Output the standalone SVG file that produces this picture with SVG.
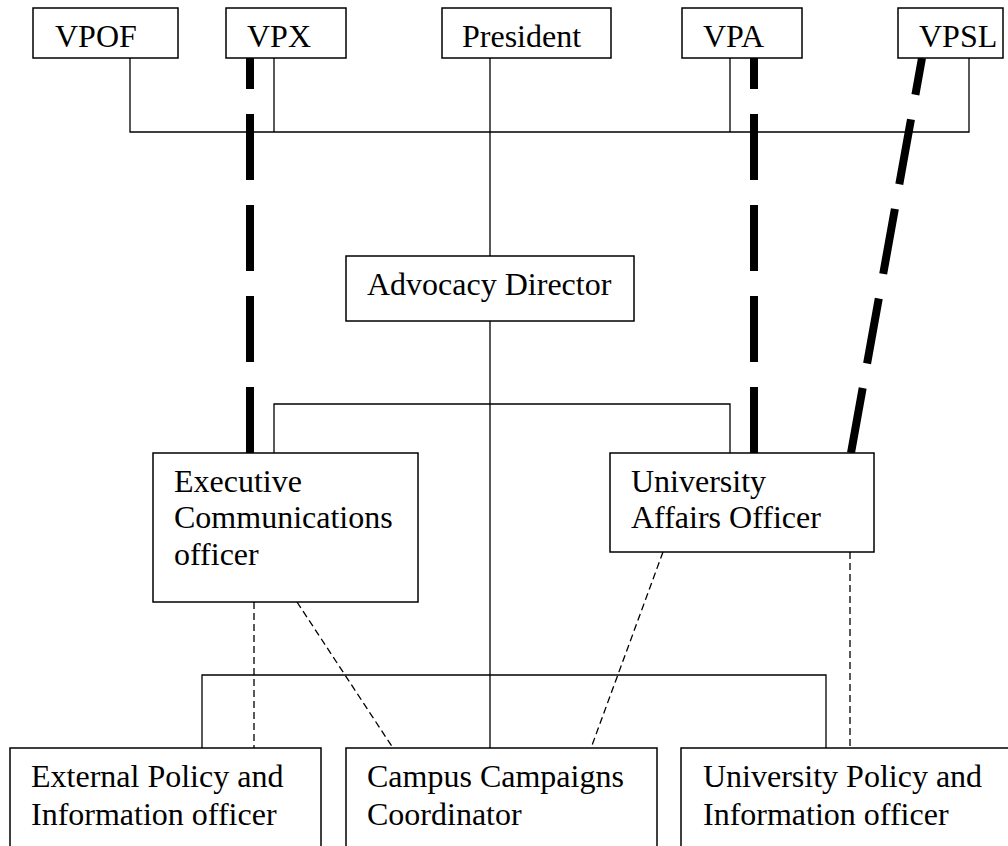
<svg xmlns="http://www.w3.org/2000/svg" width="1008" height="846" viewBox="0 0 1008 846">
<style>
.box{fill:#fff;stroke:#000;stroke-width:1.5}
.t{font-family:"Liberation Serif","Times New Roman",serif;font-size:32px;fill:#000}
.ln{fill:none;stroke:#000;stroke-width:1.3}
.thick{fill:none;stroke:#000;stroke-width:8;stroke-dasharray:66 25}
.dash{fill:none;stroke:#000;stroke-width:1.3;stroke-dasharray:7 4}
</style>
<rect width="1008" height="846" fill="#fff"/>
<g id="connectors">
<path class="ln" d="M130,58V132H969V58M274,58V132M730,58V132"/>
<path class="ln" d="M490,58V256M490,321V748"/>
<path class="ln" d="M274,453V404H730V453"/>
<path class="ln" d="M202,748V675H826V748"/>
<path class="dash" d="M254,602V748"/>
<path class="dash" d="M297,602L393,748"/>
<path class="dash" d="M663,552L591,748"/>
<path class="dash" d="M850,552V748"/>
<path class="thick" d="M250,453V58"/>
<path class="thick" d="M754,453V58"/>
<path class="thick" d="M851,453L922,58"/>
</g>
<g id="vpof"><rect class="box" x="33" y="8" width="145" height="50"/><text class="t" x="55" y="47">VPOF</text></g>
<g id="vpx"><rect class="box" x="226" y="8" width="120" height="50"/><text class="t" x="247" y="47">VPX</text></g>
<g id="president"><rect class="box" x="442" y="8" width="169" height="50"/><text class="t" x="462" y="47">President</text></g>
<g id="vpa"><rect class="box" x="682" y="8" width="120" height="50"/><text class="t" x="703" y="47">VPA</text></g>
<g id="vpsl"><rect class="box" x="898" y="8" width="105" height="50"/><text class="t" x="919" y="47">VPSL</text></g>
<g id="advocacy"><rect class="box" x="346" y="256" width="288" height="65"/><text class="t" x="367" y="295">Advocacy Director</text></g>
<g id="eco"><rect class="box" x="153" y="453" width="265" height="149"/><text class="t" x="174" y="492">Executive</text><text class="t" x="174" y="528">Communications</text><text class="t" x="174" y="565">officer</text></g>
<g id="uao"><rect class="box" x="610" y="453" width="264" height="99"/><text class="t" x="631" y="492">University</text><text class="t" x="631" y="528">Affairs Officer</text></g>
<g id="epio"><rect class="box" x="10" y="748" width="311" height="110"/><text class="t" x="31" y="787">External Policy and</text><text class="t" x="31" y="825">Information officer</text></g>
<g id="ccc"><rect class="box" x="346" y="748" width="311" height="110"/><text class="t" x="367" y="787">Campus Campaigns</text><text class="t" x="367" y="825">Coordinator</text></g>
<g id="upio"><rect class="box" x="681" y="748" width="340" height="110"/><text class="t" x="703" y="787">University Policy and</text><text class="t" x="703" y="825">Information officer</text></g>
</svg>
